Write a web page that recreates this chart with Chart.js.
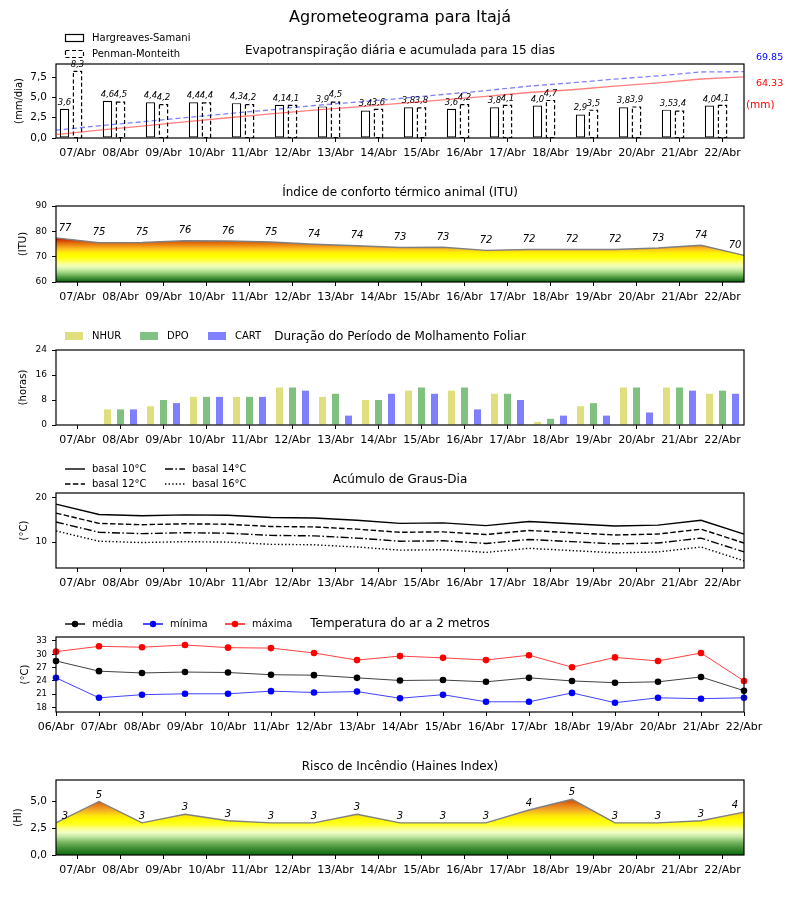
<!DOCTYPE html>
<html>
<head>
<meta charset="utf-8">
<script src="https://cdn.jsdelivr.net/npm/chart.js@4.4.1/dist/chart.umd.min.js"></script>
<style>
  body { margin: 0; background: #fff; }
  #folha { position: relative; width: 800px; height: 900px; overflow: hidden; }
  canvas { position: absolute; left: 0; }
</style>
</head>
<body>
<div id="folha">
  <canvas id="c1" width="800" height="170" style="top:0px"></canvas>
  <canvas id="c1b" width="800" height="170" style="top:0px"></canvas>
  <canvas id="c2" width="800" height="140" style="top:170px"></canvas>
  <canvas id="c3" width="800" height="135" style="top:310px"></canvas>
  <canvas id="c4" width="800" height="145" style="top:445px"></canvas>
  <canvas id="c5" width="800" height="150" style="top:590px"></canvas>
  <canvas id="c6" width="800" height="160" style="top:740px"></canvas>
</div>
<script>
const dias = ['07/Abr','08/Abr','09/Abr','10/Abr','11/Abr','12/Abr','13/Abr','14/Abr',
              '15/Abr','16/Abr','17/Abr','18/Abr','19/Abr','20/Abr','21/Abr','22/Abr'];
const diasTemp = ['06/Abr','07/Abr','08/Abr','09/Abr','10/Abr','11/Abr','12/Abr','13/Abr','14/Abr',
                  '15/Abr','16/Abr','17/Abr','18/Abr','19/Abr','20/Abr','21/Abr','22/Abr'];

const etHargreaves = [3.6,4.6,4.4,4.4,4.3,4.1,3.9,3.4,3.8,3.6,3.8,4.0,2.9,3.8,3.5,4.0];
const etPenman     = [8.3,4.5,4.2,4.4,4.2,4.1,4.5,3.6,3.8,4.2,4.1,4.7,3.5,3.9,3.4,4.1];
const acumHargreaves = [3.6,8.2,12.6,17.0,21.3,25.4,29.3,32.7,36.5,40.1,43.9,47.9,50.8,54.6,58.1,62.1,64.33];
const acumPenman     = [8.3,12.8,17.0,21.4,25.6,29.7,34.2,37.8,41.6,45.8,49.9,54.6,58.1,62.0,65.4,69.5,69.85];

const itu = [77.4,75.5,75.6,76.3,76.2,75.8,74.9,74.3,73.6,73.7,72.5,72.8,72.8,72.8,73.4,74.5,70.5];

const molhNHUR = [0,5,6,9,9,12,9,8,11,11,10,1,6,12,12,10];
const molhDPO  = [0,5,8,9,9,12,10,8,12,12,10,2,7,12,12,11];
const molhCART = [0,5,7,9,9,11,3,10,10,5,8,3,3,4,11,10];

const gd10 = [18.5,16.2,15.9,16.1,16.0,15.5,15.4,14.9,14.2,14.3,13.7,14.6,14.1,13.6,13.8,14.9,11.8];
const gd12 = [16.5,14.2,13.9,14.1,14.0,13.5,13.4,12.9,12.2,12.3,11.7,12.6,12.1,11.6,11.8,12.9,9.8];
const gd14 = [14.5,12.2,11.9,12.1,12.0,11.5,11.4,10.9,10.2,10.3,9.7,10.6,10.1,9.6,9.8,10.9,7.8];
const gd16 = [12.5,10.2,9.9,10.1,10.0,9.5,9.4,8.9,8.2,8.3,7.7,8.6,8.1,7.6,7.8,8.9,5.8];

const tMedia  = [28.5,26.2,25.8,26.0,25.9,25.4,25.3,24.7,24.1,24.2,23.8,24.7,24.0,23.6,23.8,24.9,21.8];
const tMinima = [24.7,20.2,20.9,21.1,21.1,21.7,21.4,21.6,20.1,20.9,19.3,19.3,21.3,19.1,20.2,20.0,20.2];
const tMaxima = [30.6,31.8,31.6,32.1,31.5,31.4,30.3,28.7,29.6,29.2,28.7,29.8,27.1,29.3,28.5,30.3,24.0];

const haines = [3.0,5.0,3.0,3.8,3.2,3.0,3.0,3.8,3.0,3.0,3.0,4.2,5.2,3.0,3.0,3.2,4.0];

// posicoes dos paineis na pagina (topo do canvas, altura, topo e base da area de plotagem)
const P1 = {T: 0,   H: 170, A: 64,  B: 138};
const P2 = {T: 170, H: 140, A: 206, B: 282};
const P3 = {T: 310, H: 135, A: 350, B: 425};
const P4 = {T: 445, H: 145, A: 493, B: 568};
const P5 = {T: 590, H: 150, A: 637, B: 712};
const P6 = {T: 740, H: 160, A: 780, B: 855};

const FONTE = '"DejaVu Sans", sans-serif';
Chart.defaults.font.family = FONTE;
Chart.defaults.color = '#000';
Chart.defaults.animation = false;

const coresITU = [[60,'#0b5d0b'],[61,'#2f7f2a'],[62,'#56a046'],[63,'#80bf66'],[64,'#a8da8a'],
  [65,'#cdeea6'],[66,'#ecfcb8'],[67,'#f8ffa0'],[68,'#ffff66'],[69,'#ffff26'],[70,'#ffff00'],
  [71.5,'#fff200'],[72.5,'#ffd21a'],[73.5,'#f8b01e'],[74.5,'#ec8c14'],[75.5,'#e06a0a'],
  [76.5,'#d43c04'],[77.5,'#c80000']];
const coresHaines = [[0,'#0b6a0b'],[0.6,'#3d8c33'],[1.2,'#79b862'],[1.7,'#c2e6a2'],[2.1,'#f0ffc4'],
  [2.5,'#fbff8a'],[2.8,'#ffff30'],[3.2,'#ffff00'],[3.7,'#fde30a'],[4.2,'#f5aa26'],
  [4.7,'#e67a18'],[5.2,'#cc4a04']];

function virgula(v) { return v.toFixed(1).replace('.', ','); }

function gradiente(chart, paradas) {
  if (!chart.chartArea) return 'rgba(0,0,0,0)';
  const y = chart.scales.y;
  const v0 = paradas[0][0], v1 = paradas[paradas.length - 1][0];
  const g = chart.ctx.createLinearGradient(0, y.getPixelForValue(v0), 0, y.getPixelForValue(v1));
  paradas.forEach(([v, c]) => g.addColorStop((v - v0) / (v1 - v0), c));
  return g;
}

function eixoX(p, labels, offset) {
  return {
    type: 'category', labels: labels, offset: offset,
    grid: { display: true, drawOnChartArea: false, drawTicks: true, tickLength: 4, color: '#000', offset: false },
    border: { display: false },
    ticks: { autoSkip: false, maxRotation: 0, minRotation: 0, padding: 5, font: { size: 11 } },
    afterFit: s => { s.height = p.T + p.H - p.B; }
  };
}
function eixoOculto(labels) {
  return { type: 'category', labels: labels, offset: false, display: false };
}
function eixoY(min, max, marcas, fmt, titulo, tam, padTitulo) {
  return {
    min: min, max: max,
    grid: { display: true, drawOnChartArea: false, drawTicks: true, tickLength: 4, color: '#000' },
    border: { display: false },
    ticks: { padding: 5, font: { size: tam }, callback: v => fmt(v) },
    afterBuildTicks: s => { s.ticks = marcas.map(v => ({ value: v })); },
    title: { display: true, text: titulo, font: { size: 10 }, padding: { top: padTitulo, bottom: 0 } },
    afterFit: s => { s.width = 56; }
  };
}
function opcoes(p, scales) {
  return {
    responsive: false, animation: false,
    layout: { padding: { top: p.A - p.T, right: 56, left: 0, bottom: 0 } },
    plugins: { legend: { display: false }, tooltip: { enabled: false } },
    scales: scales
  };
}

const moldura = {
  id: 'moldura',
  afterDatasetsDraw(chart) {
    const { ctx, chartArea: a } = chart;
    ctx.save();
    ctx.strokeStyle = '#000'; ctx.lineWidth = 1.2;
    ctx.strokeRect(a.left, a.top, a.right - a.left, a.bottom - a.top);
    ctx.restore();
  }
};

function textos(p, titulo, legenda) {
  return {
    id: 'textos',
    afterDraw(chart) {
      const ctx = chart.ctx;
      ctx.save();
      ctx.fillStyle = '#000';
      ctx.font = '12px ' + FONTE;
      ctx.textAlign = 'center'; ctx.textBaseline = 'middle';
      ctx.fillText(titulo, 400, p.A - p.T - 13);
      if (legenda) legenda(ctx, chart);
      ctx.restore();
    }
  };
}

function legTexto(ctx, x, y, texto) {
  ctx.fillStyle = '#000'; ctx.font = '10px ' + FONTE;
  ctx.textAlign = 'left'; ctx.textBaseline = 'middle';
  ctx.fillText(texto, x + 27, y);
}
function legLinha(ctx, x, y, texto, cor, dash, marcador) {
  ctx.save();
  ctx.strokeStyle = cor; ctx.lineWidth = 1.4; ctx.setLineDash(dash || []);
  ctx.beginPath(); ctx.moveTo(x, y); ctx.lineTo(x + 20, y); ctx.stroke();
  ctx.setLineDash([]);
  if (marcador) {
    ctx.fillStyle = cor; ctx.beginPath(); ctx.arc(x + 10, y, 3.2, 0, Math.PI * 2); ctx.fill();
  }
  legTexto(ctx, x, y, texto);
  ctx.restore();
}
function legCaixa(ctx, x, y, texto, preench, dash) {
  ctx.save();
  ctx.fillStyle = preench; ctx.fillRect(x, y - 4, 18, 8);
  if (dash) {
    ctx.strokeStyle = '#000'; ctx.lineWidth = 1.2; ctx.setLineDash(dash);
    ctx.strokeRect(x + 0.5, y - 3.5, 18, 7);
  }
  ctx.setLineDash([]);
  legTexto(ctx, x, y, texto);
  ctx.restore();
}

function rotulosPontos(deslocamento, tam) {
  return {
    id: 'rotulos',
    afterDatasetsDraw(chart) {
      const ctx = chart.ctx, a = chart.chartArea;
      const valores = chart.data.datasets[0].data;
      ctx.save();
      ctx.font = 'italic ' + tam + 'px ' + FONTE;
      ctx.fillStyle = '#000'; ctx.textAlign = 'center'; ctx.textBaseline = 'bottom';
      chart.getDatasetMeta(0).data.forEach((el, i) => {
        const x = Math.min(Math.max(el.x, a.left + 9), a.right - 9);
        ctx.fillText(String(Math.floor(valores[i])), x, el.y - deslocamento);
      });
      ctx.restore();
    }
  };
}

// 1) Evapotranspiracao diaria (barras)
new Chart(document.getElementById('c1'), {
  type: 'bar',
  data: {
    labels: dias,
    datasets: [
      { label: 'Hargreaves-Samani', data: etHargreaves, backgroundColor: '#fff', borderColor: '#000',
        borderWidth: 1.2, borderSkipped: false },
      { label: 'Penman-Monteith', data: etPenman, backgroundColor: '#fff', borderWidth: 0 },
      { label: '', data: dias.map(() => null) }
    ]
  },
  options: Object.assign(opcoes(P1, {
    x: eixoX(P1, dias, true),
    y: eixoY(0, 9.13, [0, 2.5, 5, 7.5], virgula, '(mm/dia)', 10.5, 13)
  }), { datasets: { bar: { categoryPercentage: 0.907, barPercentage: 0.72 } } }),
  plugins: [moldura, {
    id: 'barras',
    afterDatasetsDraw(chart) {
      const ctx = chart.ctx;
      ctx.save();
      ctx.strokeStyle = '#000'; ctx.lineWidth = 1.2; ctx.setLineDash([4, 2.5]);
      chart.getDatasetMeta(1).data.forEach(el => {
        ctx.strokeRect(el.x - el.width / 2 + 0.6, el.y + 0.6, el.width - 1.2, el.base - el.y - 0.6);
      });
      ctx.setLineDash([]);
      ctx.font = 'italic 8.5px ' + FONTE; ctx.fillStyle = '#000';
      ctx.textAlign = 'center'; ctx.textBaseline = 'bottom';
      [0, 1].forEach(d => {
        chart.getDatasetMeta(d).data.forEach((el, j) => {
          ctx.fillText(virgula(chart.data.datasets[d].data[j]), el.x, el.y - 2);
        });
      });
      ctx.restore();
    }
  }, textos(P1, 'Evapotranspiração diária e acumulada para 15 dias', (ctx, chart) => {
    ctx.font = '16px ' + FONTE; ctx.textAlign = 'center'; ctx.textBaseline = 'middle';
    ctx.fillText('Agrometeograma para Itajá', 400, 18);
    legCaixa(ctx, 65, 38, chart.data.datasets[0].label, '#fff', []);
    legCaixa(ctx, 65, 54, chart.data.datasets[1].label, '#fff', [4, 2.5]);
    ctx.font = '9.5px ' + FONTE; ctx.textAlign = 'left'; ctx.textBaseline = 'middle';
    ctx.fillStyle = '#0000ff';
    ctx.fillText(acumPenman[acumPenman.length - 1].toFixed(2), 756, 58);
    ctx.fillStyle = '#ff0000';
    ctx.fillText(acumHargreaves[acumHargreaves.length - 1].toFixed(2), 756, 84);
    ctx.font = '10.5px ' + FONTE;
    ctx.fillText('(mm)', 746, 105);
  })]
});

// 1b) Evapotranspiracao acumulada (eixo secundario, sobreposto a mesma area)
new Chart(document.getElementById('c1b'), {
  type: 'line',
  data: {
    labels: diasTemp,
    datasets: [
      { label: 'acumulada HS', data: acumHargreaves, borderColor: 'rgba(255,0,0,0.5)',
        borderWidth: 1.3, pointRadius: 0 },
      { label: 'acumulada PM', data: acumPenman, borderColor: 'rgba(0,0,255,0.5)',
        borderDash: [5, 3], borderWidth: 1.3, pointRadius: 0 }
    ]
  },
  options: {
    responsive: false, animation: false,
    layout: { padding: { top: P1.A - P1.T, left: 56, right: 56, bottom: P1.T + P1.H - P1.B } },
    plugins: { legend: { display: false }, tooltip: { enabled: false } },
    scales: {
      x: { type: 'category', offset: false, display: false },
      y: { type: 'linear', min: 0, max: 77.9, display: false }
    }
  }
});

// 2) ITU
new Chart(document.getElementById('c2'), {
  type: 'line',
  data: {
    labels: diasTemp,
    datasets: [{ label: 'ITU', data: itu, xAxisID: 'x2', borderColor: '#808080', borderWidth: 1.4,
      pointRadius: 0, fill: 'start', backgroundColor: c => gradiente(c.chart, coresITU) }]
  },
  options: opcoes(P2, {
    x: eixoX(P2, dias, true),
    x2: eixoOculto(diasTemp),
    y: eixoY(60, 90, [60, 70, 80, 90], v => String(v), '(ITU)', 9, 17)
  }),
  plugins: [moldura, rotulosPontos(5, 10), textos(P2, 'Índice de conforto térmico animal (ITU)')]
});

// 3) Molhamento foliar
new Chart(document.getElementById('c3'), {
  type: 'bar',
  data: {
    labels: dias,
    datasets: [
      { label: 'NHUR', data: molhNHUR, backgroundColor: '#dfdf80' },
      { label: 'DPO', data: molhDPO, backgroundColor: '#80c080' },
      { label: 'CART', data: molhCART, backgroundColor: '#8080ff' }
    ]
  },
  options: Object.assign(opcoes(P3, {
    x: eixoX(P3, dias, true),
    y: eixoY(0, 24, [0, 8, 16, 24], v => String(v), '(horas)', 9, 17)
  }), { datasets: { bar: { categoryPercentage: 0.907, barPercentage: 0.54 } } }),
  plugins: [moldura, textos(P3, 'Duração do Período de Molhamento Foliar', (ctx, chart) => {
    const ds = chart.data.datasets;
    legCaixa(ctx, 65, 26, ds[0].label, ds[0].backgroundColor);
    legCaixa(ctx, 140, 26, ds[1].label, ds[1].backgroundColor);
    legCaixa(ctx, 208, 26, ds[2].label, ds[2].backgroundColor);
  })]
});

// 4) Graus-dia
const tracos = { d12: [5.5, 2.4], d14: [8, 2.4, 1.5, 2.4], d16: [1.4, 2.2] };
new Chart(document.getElementById('c4'), {
  type: 'line',
  data: {
    labels: diasTemp,
    datasets: [
      { label: 'basal 10°C', data: gd10, xAxisID: 'x2', borderColor: '#000', borderWidth: 1.4, pointRadius: 0 },
      { label: 'basal 12°C', data: gd12, xAxisID: 'x2', borderColor: '#000', borderWidth: 1.4, pointRadius: 0, borderDash: tracos.d12 },
      { label: 'basal 14°C', data: gd14, xAxisID: 'x2', borderColor: '#000', borderWidth: 1.4, pointRadius: 0, borderDash: tracos.d14 },
      { label: 'basal 16°C', data: gd16, xAxisID: 'x2', borderColor: '#000', borderWidth: 1.4, pointRadius: 0, borderDash: tracos.d16 }
    ]
  },
  options: opcoes(P4, {
    x: eixoX(P4, dias, true),
    x2: eixoOculto(diasTemp),
    y: eixoY(4.2, 21, [10, 20], v => String(v), '(°C)', 9, 18)
  }),
  plugins: [moldura, textos(P4, 'Acúmulo de Graus-Dia', (ctx, chart) => {
    const ds = chart.data.datasets;
    legLinha(ctx, 65, 24, ds[0].label, '#000', []);
    legLinha(ctx, 65, 39, ds[1].label, '#000', tracos.d12);
    legLinha(ctx, 165, 24, ds[2].label, '#000', tracos.d14);
    legLinha(ctx, 165, 39, ds[3].label, '#000', tracos.d16);
  })]
});

// 5) Temperatura do ar
function serieTemp(label, dados, cor, linha) {
  return { label: label, data: dados, borderColor: linha, borderWidth: 1, pointRadius: 3.3,
    pointBackgroundColor: cor, pointBorderWidth: 0, cor: cor };
}
new Chart(document.getElementById('c5'), {
  type: 'line',
  data: {
    labels: diasTemp,
    datasets: [
      serieTemp('média', tMedia, '#000000', 'rgba(0,0,0,0.75)'),
      serieTemp('mínima', tMinima, '#0000ff', 'rgba(0,0,255,0.75)'),
      serieTemp('máxima', tMaxima, '#ff0000', 'rgba(255,0,0,0.75)')
    ]
  },
  options: opcoes(P5, {
    x: eixoX(P5, diasTemp, false),
    y: eixoY(17, 33.9, [18, 21, 24, 27, 30, 33], v => String(v), '(°C)', 8.5, 19)
  }),
  plugins: [moldura, textos(P5, 'Temperatura do ar a 2 metros', (ctx, chart) => {
    const ds = chart.data.datasets;
    legLinha(ctx, 65, 34, ds[0].label, ds[0].cor, [], true);
    legLinha(ctx, 143, 34, ds[1].label, ds[1].cor, [], true);
    legLinha(ctx, 225, 34, ds[2].label, ds[2].cor, [], true);
  })]
});

// 6) Haines
new Chart(document.getElementById('c6'), {
  type: 'line',
  data: {
    labels: diasTemp,
    datasets: [{ label: 'HI', data: haines, xAxisID: 'x2', borderColor: '#808080', borderWidth: 1.4,
      pointRadius: 0, fill: 'start', backgroundColor: c => gradiente(c.chart, coresHaines) }]
  },
  options: opcoes(P6, {
    x: eixoX(P6, dias, true),
    x2: eixoOculto(diasTemp),
    y: eixoY(0, 7, [0, 2.5, 5], virgula, '(HI)', 10.5, 12)
  }),
  plugins: [moldura, rotulosPontos(1.5, 10), textos(P6, 'Risco de Incêndio (Haines Index)')]
});
</script>
</body>
</html>
